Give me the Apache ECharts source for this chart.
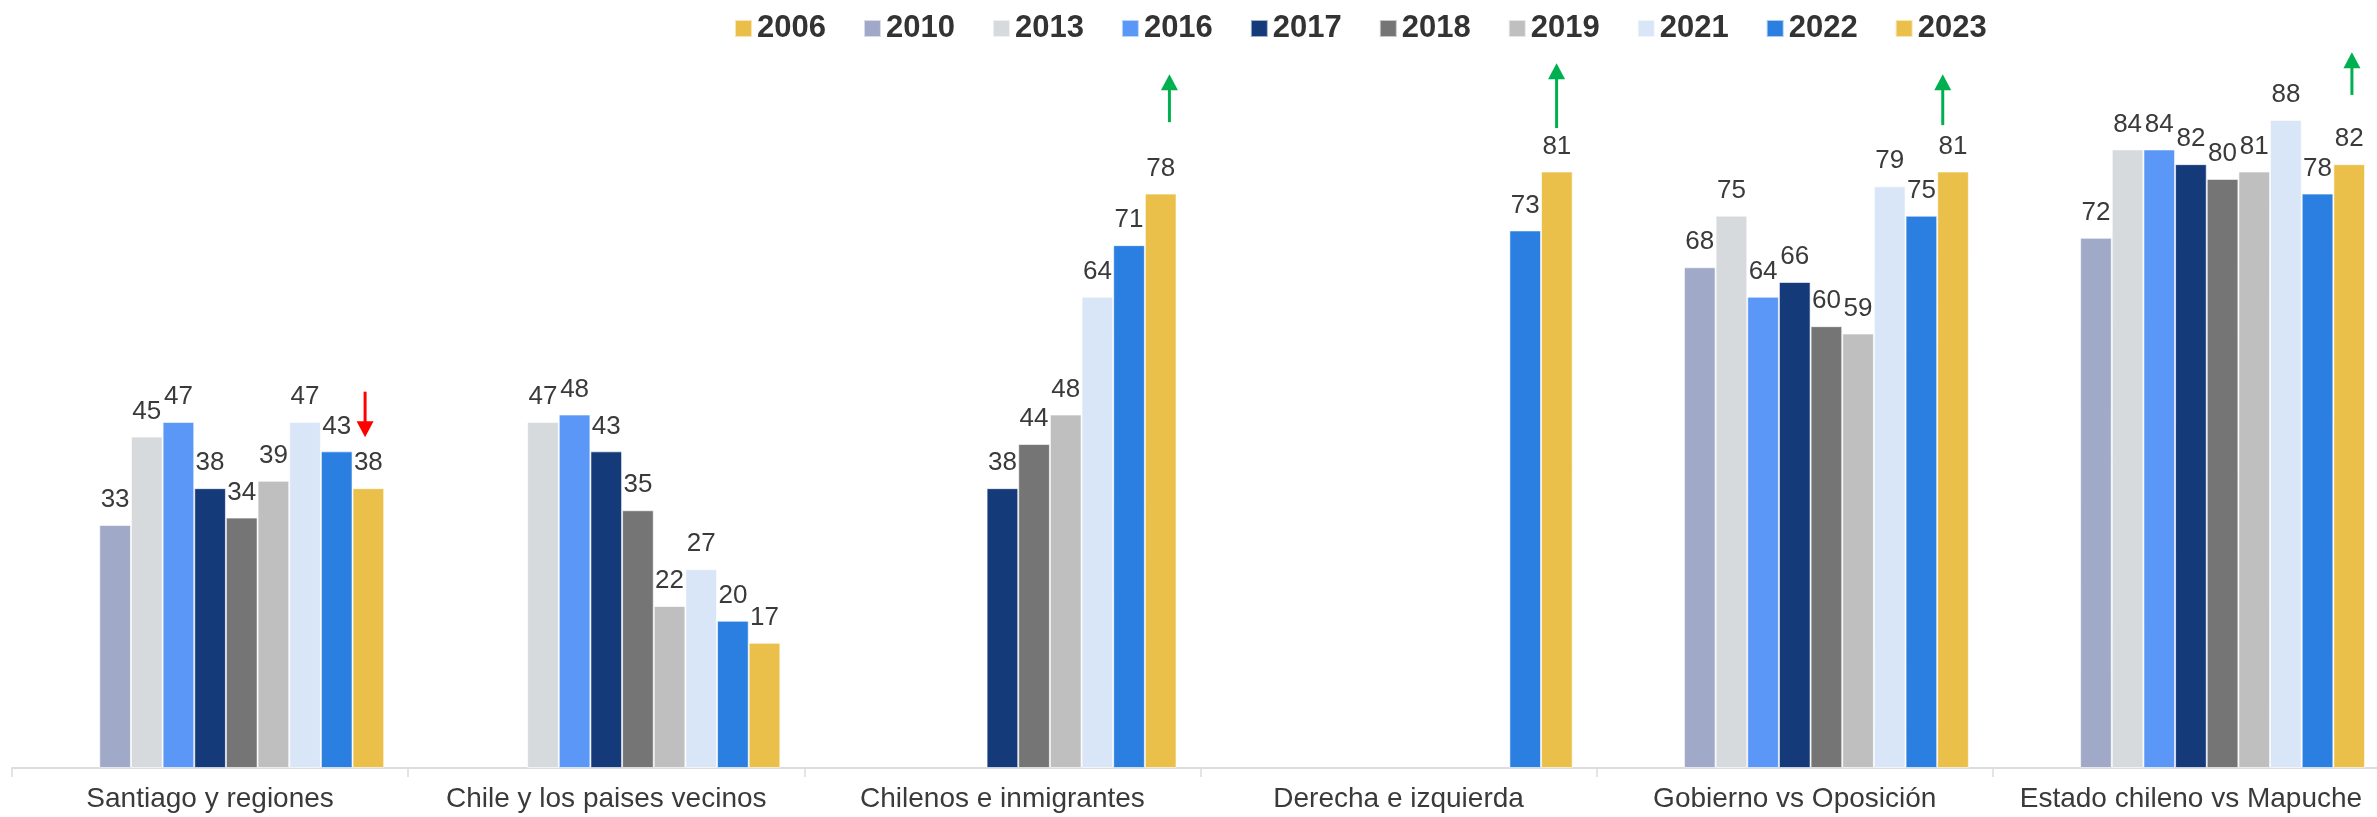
<!DOCTYPE html>
<html>
<head>
<meta charset="utf-8">
<script src="https://cdn.jsdelivr.net/npm/echarts@6/dist/echarts.min.js"></script>
<style>
  html, body { margin: 0; padding: 0; background: #ffffff; overflow: hidden; width: 2377px; height: 817px; }
  #chart { width: 2389px; height: 817px; }
</style>
</head>
<body>
<div id="chart"></div>
<script>
// ---- data ----
const categories = ["Santiago y regiones", "Chile y los paises vecinos", "Chilenos e inmigrantes", "Derecha e izquierda", "Gobierno vs Oposición", "Estado chileno vs Mapuche"];
const years = ["2006", "2010", "2013", "2016", "2017", "2018", "2019", "2021", "2022", "2023"];
const v2006 = [null, null, null, null, null, null];
const v2010 = [33, null, null, null, 68, 72];
const v2013 = [45, 47, null, null, 75, 84];
const v2016 = [47, 48, null, null, 64, 84];
const v2017 = [38, 43, 38, null, 66, 82];
const v2018 = [34, 35, 44, null, 60, 80];
const v2019 = [39, 22, 48, null, 59, 81];
const v2021 = [47, 27, 64, null, 79, 88];
const v2022 = [43, 20, 71, 73, 75, 78];
const v2023 = [38, 17, 78, 81, 81, 82];
const seriesValues = [v2006, v2010, v2013, v2016, v2017, v2018, v2019, v2021, v2022, v2023];
// arrows: category, direction, tail value, tip value, offset from category centre (px)
const arrowCats = [0, 2, 3, 4, 5];
const arrowDirs = ["down", "up", "up", "up", "up"];
const arrowTail = [51.1, 87.7, 86.9, 87.3, 91.4];
const arrowTip = [44.9, 94.2, 95.7, 94.2, 97.2];
const arrowDx = [155, 167, 158, 148, 161];

// ---- styles ----
const colors = ["#EBBF47", "#A0AAC8", "#D6DADC", "#5B97F7", "#143A7A", "#757575", "#BFBFBF", "#D9E6F8", "#2A7FE0", "#EBC04A"];
const FONT = "'Liberation Sans', Arial, sans-serif";

const chart = echarts.init(document.getElementById('chart'), null, { renderer: 'canvas' });

const series = [];
// empty leading slot (unlabelled series in the source chart)
series.push({ name: "_blank", type: "bar", data: categories.map(() => null), barGap: "0%", barCategoryGap: "12.1%", silent: true });
years.forEach((y, i) => {
  series.push({
    name: y,
    type: "bar",
    data: seriesValues[i],
    barGap: "0%",
    barCategoryGap: "12.1%",
    itemStyle: { color: colors[i], borderColor: "rgba(255,255,255,0.6)", borderWidth: 1 },
    label: {
      show: true, position: "top", distance: 12,
      fontFamily: FONT, fontSize: 26, color: "#3a3a3a"
    }
  });
});

chart.setOption({
  animation: false,
  backgroundColor: "#ffffff",
  legend: {
    data: years,
    top: 8, left: 729,
    itemWidth: 17, itemHeight: 17, itemGap: 37,
    icon: "rect",
    textStyle: { fontFamily: FONT, fontSize: 31, fontWeight: "bold", color: "#333333" }
  },
  grid: { left: 12, right: 0, top: 31.6, bottom: 49, containLabel: false },
  xAxis: {
    type: "category",
    data: categories,
    axisLine: { lineStyle: { color: "#dcdcdc", width: 2 } },
    axisTick: { show: true, length: 9, lineStyle: { color: "#dcdcdc", width: 1.5 } },
    axisLabel: { fontFamily: FONT, fontSize: 28, color: "#3a3a3a", margin: 17, interval: 0 }
  },
  yAxis: {
    type: "value", min: 0, max: 100, interval: 10,
    show: false, splitLine: { show: false }
  },
  series: series
});

// arrows as annotations positioned through the chart scales
const graphics = [];
arrowCats.forEach((c, i) => {
  const base = chart.convertToPixel({ gridIndex: 0 }, [c, 0]);
  const x = base[0] + arrowDx[i];
  const yTail = chart.convertToPixel({ gridIndex: 0 }, [c, arrowTail[i]])[1];
  const yTip = chart.convertToPixel({ gridIndex: 0 }, [c, arrowTip[i]])[1];
  const col = arrowDirs[i] === "up" ? "#00B050" : "#FF0000";
  const head = 16, half = 8.5;
  const dir = arrowDirs[i] === "up" ? 1 : -1;
  graphics.push({
    type: "line",
    shape: { x1: x, y1: yTail, x2: x, y2: yTip + dir * head * 0.9 },
    style: { stroke: col, lineWidth: 3 }
  });
  graphics.push({
    type: "polygon",
    shape: { points: [[x, yTip], [x - half, yTip + dir * head], [x + half, yTip + dir * head]] },
    style: { fill: col }
  });
});
chart.setOption({ graphic: graphics });
</script>
</body>
</html>
